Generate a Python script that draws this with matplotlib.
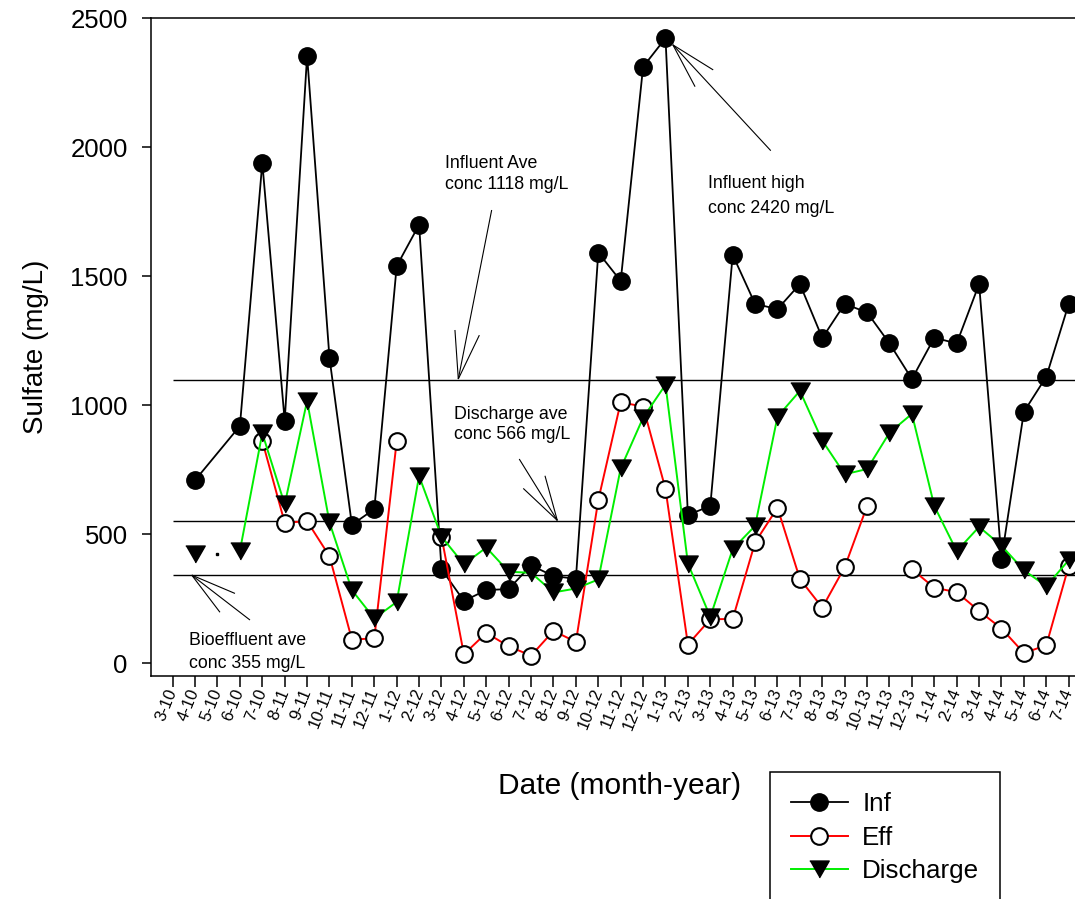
import numpy as np
import matplotlib
matplotlib.use('Agg')
import matplotlib.pyplot as plt

plt.rcParams['font.family'] = ['Liberation Sans', 'DejaVu Sans']

nan = np.nan
dates = ['3-10', '4-10', '5-10', '6-10', '7-10', '8-11', '9-11', '10-11', '11-11', '12-11',
         '1-12', '2-12', '3-12', '4-12', '5-12', '6-12', '7-12', '8-12', '9-12', '10-12',
         '11-12', '12-12', '1-13', '2-13', '3-13', '4-13', '5-13', '6-13', '7-13', '8-13',
         '9-13', '10-13', '11-13', '12-13', '1-14', '2-14', '3-14', '4-14', '5-14', '6-14', '7-14']

inf = [nan, 710, nan, 920, 1940, 940, 2355, 1183, 537, 598,
       1540, 1700, 365, 242, 284, 288, 380, 338, 328, 1592,
       1482, 2312, 2423, 575, 610, 1583, 1393, 1373, 1470, 1261,
       1393, 1360, 1240, 1102, 1262, 1240, 1470, 406, 975, 1111, 1393]

eff = [nan, nan, nan, nan, 862, 545, 551, 415, 92, 97,
       861, nan, 491, 35, 118, 66, 30, 126, 83, 633,
       1012, 995, 676, 73, 171, 172, 469, 603, 327, 216,
       373, 610, nan, 365, 293, 276, 203, 135, 40, 70, 377]

discharge = [nan, 423, nan, 436, 892, 616, 1017, 546, 284, 174,
             238, 726, 491, 384, 449, 355, 351, 275, 290, 325,
             756, 952, 1080, 387, 180, 443, 533, 956, 1056, 863,
             733, 753, 894, 967, 610, 435, 529, 456, 361, 299, 400]

ave_levels = [1100, 551, 342]
stray_x = [2]
stray_y = [424]

x = np.arange(len(dates))
inf_arr = np.array(inf, dtype=float)
mask = ~np.isnan(inf_arr)

fig = plt.figure(figsize=(10.75, 8.99), dpi=100)
ax = fig.add_axes([150.7 / 1075, 1 - 676 / 899, (1090 - 150.7) / 1075, (676 - 18.3) / 899])

tri = [(-1, 0.87), (1, 0.87), (0, -0.87)]

l_inf, = ax.plot(x[mask], inf_arr[mask], color='black', lw=1.3, marker='o', ms=12.5,
                 mfc='black', mec='black', mew=1, label='Inf', zorder=3)
l_eff, = ax.plot(x, eff, color='#ff0000', lw=1.4, marker='o', ms=12,
                 mfc='white', mec='black', mew=1.5, label='Eff', zorder=4)
l_dis, = ax.plot(x, discharge, color='#00ee00', lw=1.4, marker=tri, ms=14,
                 mfc='black', mec='black', mew=1, label='Discharge', zorder=5)
ax.plot(stray_x, stray_y, ls='none', marker='s', ms=1.6, color='black')

xmax = (1090 - 172.7) / 22.4
ax.hlines(ave_levels, 0, xmax, color='black', lw=1.0, zorder=2)

def arrow(tail, tip, b1, b2):
    for p in (tail, b1, b2):
        ax.plot([p[0], tip[0]], [p[1], tip[1]], color='black', lw=0.8, zorder=2,
                solid_capstyle='butt')

arrow((14.24, 1757), (12.75, 1102), (12.60, 1292), (13.69, 1272))
arrow((26.70, 1987), (22.33, 2397), (24.13, 2300), (23.32, 2235))
arrow((15.47, 792), (17.17, 554), (15.65, 678), (16.62, 727))
arrow((3.45, 168), (0.85, 342), (2.78, 271), (2.11, 198))

fs_ann = 12.8
ax.text(12.16, 1921, 'Influent Ave', fontsize=fs_ann, va='baseline', ha='left')
ax.text(12.16, 1840, 'conc 1118 mg/L', fontsize=fs_ann, va='baseline', ha='left')
ax.text(23.90, 1843, 'Influent high', fontsize=fs_ann, va='baseline', ha='left')
ax.text(23.90, 1747, 'conc 2420 mg/L', fontsize=fs_ann, va='baseline', ha='left')
ax.text(12.56, 946, 'Discharge ave', fontsize=fs_ann, va='baseline', ha='left')
ax.text(12.56, 868, 'conc 566 mg/L', fontsize=fs_ann, va='baseline', ha='left')
ax.text(0.74, 70, 'Bioeffluent ave', fontsize=fs_ann, va='baseline', ha='left')
ax.text(0.74, -17, 'conc 355 mg/L', fontsize=fs_ann, va='baseline', ha='left', clip_on=False)

ax.set_xlim((150.7 - 172.7) / 22.4, xmax)
ax.set_ylim(-49, 2500)
ax.set_xticks(x)
ax.set_xticklabels(dates, rotation=68, ha='right', va='center', rotation_mode='anchor', fontsize=12)
ax.set_yticks([0, 500, 1000, 1500, 2000, 2500])
ax.tick_params(axis='y', direction='out', length=6.5, width=1.1, pad=10, labelsize=18.5)
ax.tick_params(axis='x', direction='out', length=8, width=1.1, pad=1.5)

for s in ('left', 'bottom', 'top'):
    ax.spines[s].set_linewidth(1.1)
ax.spines['right'].set_visible(False)

ax.set_ylabel('Sulfate (mg/L)', fontsize=20)
ax.yaxis.set_label_coords(-0.108, 0.5)
ax.set_xlabel('Date (month-year)', fontsize=21.5)
ax.xaxis.set_label_coords(0.4996, -0.146)

leg = ax.legend(handles=[l_inf, l_eff, l_dis], loc='upper left',
                bbox_to_anchor=(770 / 1075, 1 - 771.7 / 899), bbox_transform=fig.transFigure,
                borderaxespad=0, fontsize=18.7, frameon=True, fancybox=False,
                borderpad=0.8, handlelength=2.2, handletextpad=0.55, labelspacing=0.36,
                framealpha=1, edgecolor='black')
leg.get_frame().set_linewidth(1.1)

fig.savefig('out.png', dpi=100)
